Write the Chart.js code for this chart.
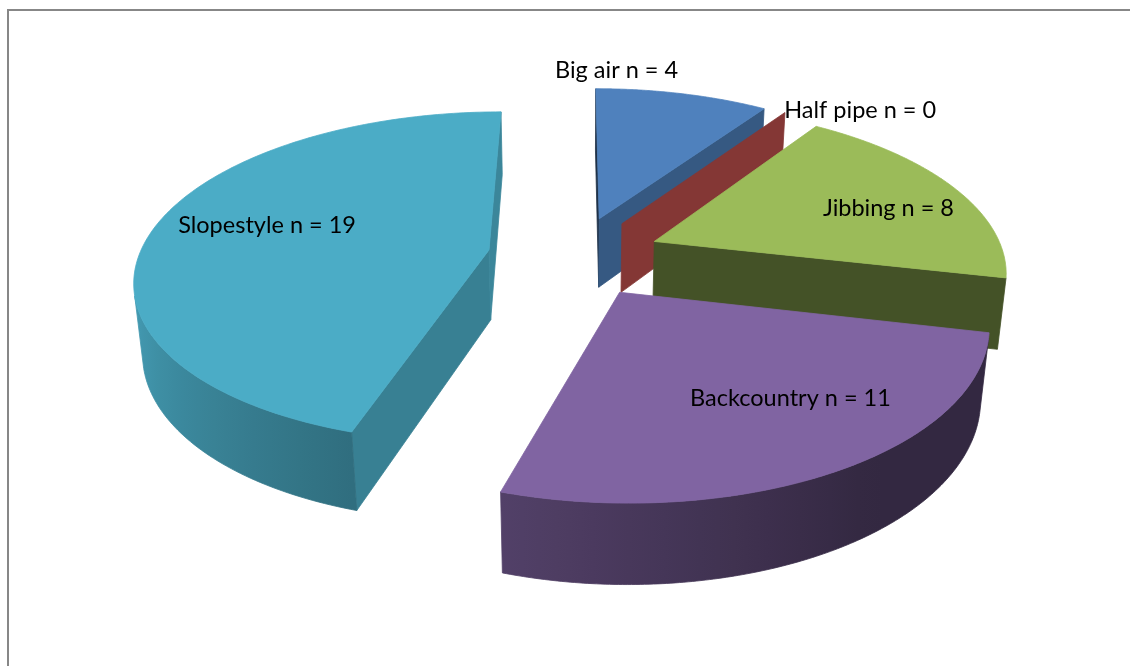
<!DOCTYPE html>
<html><head><meta charset="utf-8">
<script src="https://cdn.jsdelivr.net/npm/chart.js@4.4.1/dist/chart.umd.min.js"></script>
<style>html,body{margin:0;padding:0;background:#fff;overflow:hidden}#wrap{width:1130px;height:666px;position:relative}</style>
</head><body><div id="wrap"><canvas id="c" width="1130" height="666"></canvas></div>
<script>
// ---- data ----
const categories = ['Big air', 'Half pipe', 'Jibbing', 'Backcountry', 'Slopestyle'];
const counts = [4, 0, 8, 11, 19];
const labelTexts = categories.map((c, i) => c + ' n = ' + counts[i]);
const sliceColors = ['#4F81BD', '#C0504D', '#9BBB59', '#8064A2', '#4BACC6'];
// label placement (fraction of radius, angle shift in degrees)
const labelRadius = [1.18, 1.18, 0.745, 0.687, 0.68];
const labelShift = [-13.5, 9.6, 4.2, -7.2, 5.0];

// ---- 3D view settings ----
const VIEW = { tilt: 27.7, persp: 0.00047, depth: 81, explode: 87 };
const FONT_PX = 23.5;

function hexRgb(h) { h = h.replace('#', ''); return [0, 2, 4].map(k => parseInt(h.substr(k, 2), 16)); }
function shade(h, f) { const c = hexRgb(h).map(v => Math.max(0, Math.min(255, Math.round(v * f)))); return 'rgb(' + c.join(',') + ')'; }
function cutFactor(n) { return 0.58 + 0.2 * n[0] - 0.1 * n[1]; }
function wallFactor(t) {
  let d = t * 180 / Math.PI; d = ((d % 360) + 360) % 360;
  if (d < 55) return 0.40;
  return Math.min(0.92, 0.40 + (d - 55) / 108 * 0.5);
}

function geometry(chart) {
  const arcs = chart.getDatasetMeta(0).data;
  const cx = arcs[0].x, cy = arcs[0].y;
  const a = VIEW.tilt * Math.PI / 180, S = Math.sin(a), C = Math.cos(a);
  const D = C / VIEW.persp;
  const P = (u, v, z) => { const p = D / (D - v * C - z * S); return [cx + u * p, cy + (v * S - z * C) * p]; };
  const camV = D * C;
  const slices = arcs.map((arc, i) => {
    const s = arc.startAngle, e = arc.endAngle, m = (s + e) / 2;
    return { i, s, e, m, R: arc.outerRadius, ox: VIEW.explode * Math.cos(m), oy: VIEW.explode * Math.sin(m) };
  });
  return { P, camV, slices };
}

function poly(ctx, pts, fill) {
  ctx.beginPath();
  pts.forEach((p, k) => k ? ctx.lineTo(p[0], p[1]) : ctx.moveTo(p[0], p[1]));
  ctx.closePath();
  ctx.fillStyle = fill; ctx.fill();
  ctx.strokeStyle = fill; ctx.lineWidth = 0.8; ctx.stroke();
}

function drawSlice(ctx, g, sl) {
  const { P, camV } = g; const H = VIEW.depth;
  const { s, e, ox, oy, R } = sl; const base = sliceColors[sl.i];
  const tc = [-ox, camV - oy];
  // cut faces
  const faces = [{ a: s, n: [Math.sin(s), -Math.cos(s)] }, { a: e, n: [-Math.sin(e), Math.cos(e)] }];
  faces.forEach(f => {
    if (tc[0] * f.n[0] + tc[1] * f.n[1] <= 0) return;
    const rx = ox + R * Math.cos(f.a), ry = oy + R * Math.sin(f.a);
    poly(ctx, [P(ox, oy, 0), P(rx, ry, 0), P(rx, ry, -H), P(ox, oy, -H)], shade(base, cutFactor(f.n)));
  });
  // outer wall (front-facing part)
  const N = 160; const vis = [];
  for (let k = 0; k <= N; k++) {
    const t = s + (e - s) * k / N;
    if (-ox * Math.cos(t) + (camV - oy) * Math.sin(t) > R) vis.push(t);
  }
  if (vis.length > 1) {
    const top = vis.map(t => P(ox + R * Math.cos(t), oy + R * Math.sin(t), 0));
    const bot = vis.map(t => P(ox + R * Math.cos(t), oy + R * Math.sin(t), -H));
    const xs = top.map(p => p[0]);
    const x0 = Math.min(...xs), x1 = Math.max(...xs);
    const grad = ctx.createLinearGradient(x0, 0, x1, 0);
    vis.forEach((t, k) => {
      if (k % 8 && k !== vis.length - 1) return;
      const pos = x1 > x0 ? (top[k][0] - x0) / (x1 - x0) : 0;
      grad.addColorStop(Math.max(0, Math.min(1, pos)), shade(base, wallFactor(t)));
    });
    poly(ctx, top.concat(bot.reverse()), grad);
  }
  // top face
  if (e - s > 1e-6) {
    const pts = [P(ox, oy, 0)];
    for (let k = 0; k <= N; k++) {
      const t = s + (e - s) * k / N;
      pts.push(P(ox + R * Math.cos(t), oy + R * Math.sin(t), 0));
    }
    poly(ctx, pts, base);
  }
}

const pie3d = {
  id: 'pie3d',
  beforeDraw(chart) {
    const ctx = chart.ctx;
    ctx.save();
    ctx.strokeStyle = '#878787'; ctx.lineWidth = 2;
    ctx.beginPath(); ctx.moveTo(8, 666); ctx.lineTo(8, 10); ctx.lineTo(1130, 10); ctx.stroke();
    ctx.restore();
  },
  beforeDatasetsDraw(chart) {
    const ctx = chart.ctx; const g = geometry(chart);
    ctx.save();
    g.slices.slice().sort((A, B) => A.oy - B.oy).forEach(sl => drawSlice(ctx, g, sl));
    ctx.restore();
    return false;
  },
  afterDraw(chart) {
    const ctx = chart.ctx; const g = geometry(chart);
    ctx.save();
    ctx.font = FONT_PX + 'px Lato, Carlito, "Open Sans", sans-serif';
    ctx.fillStyle = '#000'; ctx.textAlign = 'center'; ctx.textBaseline = 'alphabetic';
    g.slices.forEach(sl => {
      const t = sl.m + labelShift[sl.i] * Math.PI / 180;
      const r = labelRadius[sl.i] * sl.R;
      const p = g.P(sl.ox + r * Math.cos(t), sl.oy + r * Math.sin(t), 0);
      ctx.fillText(labelTexts[sl.i], p[0], p[1] + FONT_PX * 0.36);
    });
    ctx.restore();
  }
};

function build() {
  new Chart(document.getElementById('c'), {
    type: 'pie',
    data: { labels: categories, datasets: [{ data: counts, backgroundColor: sliceColors, borderWidth: 0, radius: 350 }] },
    options: {
      responsive: false, animation: false, events: [],
      layout: { padding: { left: 19, bottom: 154 } },
      plugins: { legend: { display: false }, tooltip: { enabled: false } }
    },
    plugins: [pie3d]
  });
}
if (document.fonts && document.fonts.load) {
  document.fonts.load(FONT_PX + 'px Lato').then(build, build);
} else build();
</script></body></html>
